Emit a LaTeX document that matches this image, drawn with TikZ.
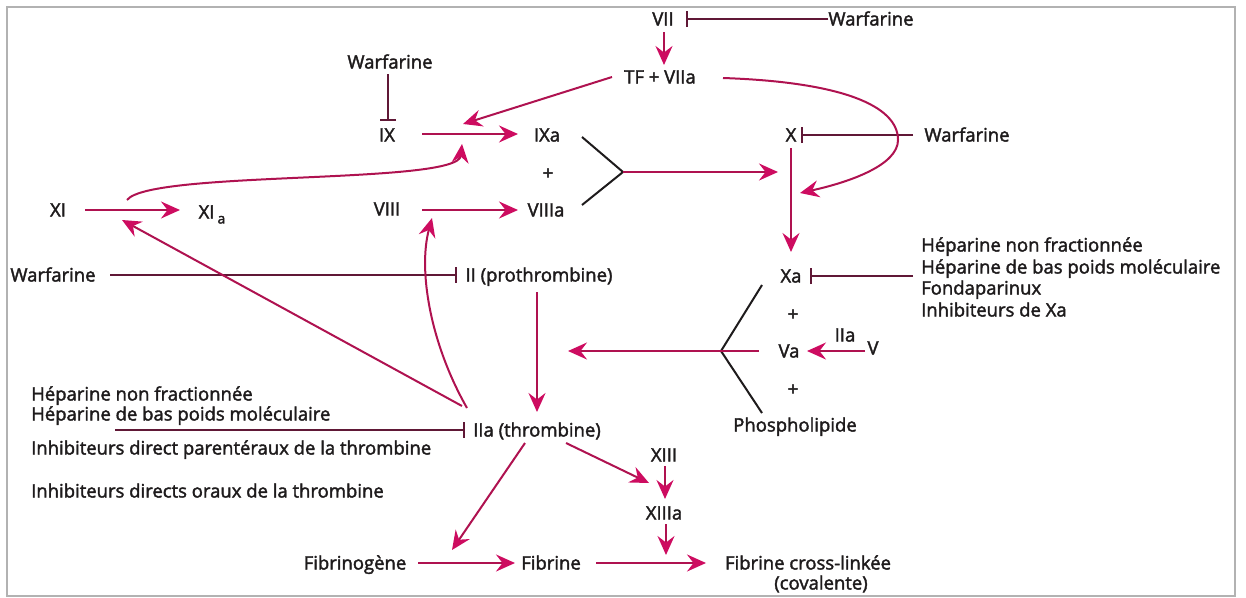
\documentclass[tikz,border=0pt]{standalone}
\usepackage{fontspec}
\setmainfont{Open Sans}[FakeBold=2]
\usetikzlibrary{arrows.meta,calc}
\definecolor{linec}{RGB}{175,18,80}
\definecolor{headc}{RGB}{205,12,96}
\definecolor{inhc}{RGB}{96,24,54}
\definecolor{txtc}{RGB}{30,27,28}
\definecolor{framec}{RGB}{178,178,178}
\begin{document}
\begin{tikzpicture}[x=1pt,y=-1pt,
  lab/.style={font=\fontsize{18.5}{22}\selectfont, text=txtc, inner sep=0pt, text height=17pt, text depth=4pt},
  arr/.style={draw=linec, line width=2pt, -{Stealth[length=19pt,width=17pt,inset=6.5pt,color=headc]}},
  inh/.style={draw=inhc, line width=2pt, -{Bar[width=16pt]}},
  brk/.style={draw=txtc, line width=2pt}]
\useasboundingbox (0,0) rectangle (1246,597);
\draw[framec, line width=2pt] (6.5,6.5) rectangle (1235,596);

% nodes
\node[lab] (VII) at (663,19) {VII};
\node[lab] (W1) at (871,19) {Warfarine};
\node[lab] (TF) at (660,77) {TF + VIIa};
\node[lab] (W2) at (390,62) {Warfarine};
\node[lab] (IX) at (387,135) {IX};
\node[lab] (IXa) at (547,135) {IXa};
\node[lab] (p1) at (548,173) {+};
\node[lab] (X) at (791,135) {X};
\node[lab] (W3) at (967,135) {Warfarine};
\node[lab] (XI) at (58,210) {XI};
\node[lab] (XIa) at (212,212) {XI\,\raisebox{-5pt}{\fontsize{14}{14}\selectfont a}};
\node[lab] (VIII) at (387,209) {VIII};
\node[lab] (VIIIa) at (546,210) {VIIIa};
\node[lab] (W4) at (53,275) {Warfarine};
\node[lab] (II) at (539,275) {II (prothrombine)};
\node[lab] (Xa) at (791,276) {Xa};
\node[lab, anchor=west] (hepA) at (921,245) {Héparine non fractionnée};
\node[lab, anchor=west] (hepB) at (921,267) {Héparine de bas poids moléculaire};
\node[lab, anchor=west] (hepC) at (921,288) {Fondaparinux};
\node[lab, anchor=west] (hepD) at (921,310) {Inhibiteurs de Xa};
\node[lab] (p2) at (793,314) {+};
\node[lab] (IIaV) at (845,335) {IIa};
\node[lab] (Va) at (789,351) {Va};
\node[lab] (V) at (873,348) {V};
\node[lab] (p3) at (793,389) {+};
\node[lab] (PL) at (795,425) {Phospholipide};
\node[lab, anchor=west] (lhA) at (31,394) {Héparine non fractionnée};
\node[lab, anchor=west] (lhB) at (31,414) {Héparine de bas poids moléculaire};
\node[lab, anchor=west] (lhC) at (31,448) {Inhibiteurs direct parentéraux de la thrombine};
\node[lab, anchor=west] (lhD) at (31,491) {Inhibiteurs directs oraux de la thrombine};
\node[lab] (IIa) at (537,430) {IIa (thrombine)};
\node[lab] (XIII) at (664,455) {XIII};
\node[lab] (XIIIa) at (664,513) {XIIIa};
\node[lab] (Fg) at (355,563) {Fibrinogène};
\node[lab] (Fb) at (551,563) {Fibrine};
\node[lab] (Fcl) at (808,563) {Fibrine cross-linkée};
\node[lab] (cov) at (821,583) {(covalente)};

\coordinate (J1) at (623,172);
\coordinate (J2) at (721,351);
\coordinate (T2) at (568,351);

% inhibitions
\draw[inh] (W1.west) -- ($(VII.center)+(23,0)$);
\draw[inh] ($(W2.center)+(-2,12)$) -- ($(IX.center)+(1,-14)$);
\draw[inh] ($(W3.center)+(-54,0)$) -- ($(X.center)+(10,0)$);
\draw[inh] ($(Xa.center)+(122,0)$) -- ($(Xa.center)+(19,0)$);
\draw[inh] ($(W4.center)+(57,0)$) -- ($(II.center)+(-82,0)$);
\draw[inh] ($(IIa.center)+(-422,0)$) -- ($(IIa.center)+(-72,0)$);

% activations
\draw[arr] ($(VII.center)+(1,13)$) -- ($(TF.center)+(4,-12)$);
\draw[arr] ($(TF.center)+(-48,0)$) -- ($(IX.center)+(76,-11)$);
\draw[arr] ($(TF.center)+(63,1)$) .. controls +(117,4) and +(0,-35) .. ($(X.center)+(107,5)$)
  .. controls +(0,25) and +(50,-11) .. ($(X.center)+(9,58)$);
\draw[arr] ($(IX.center)+(35,-1)$) -- ($(IXa.center)+(-29,-1)$);
\draw[arr] ($(XI.center)+(27,0)$) -- ($(XIa.center)+(-32,-2)$);
\draw[arr] ($(XI.center)+(69,-10)$) .. controls +(23,-30) and +(-4,41) .. ($(IXa.center)+(-85,9)$);
\draw[arr] ($(VIII.center)+(35,1)$) -- ($(VIIIa.center)+(-28,0)$);
\draw[brk] ($(IXa.center)+(35,2)$) -- (J1) -- ($(VIIIa.center)+(36,-5)$);
\draw[arr] (J1) -- ($(X.center)+(-13,37)$);
\draw[arr] ($(X.center)+(0,13)$) -- ($(Xa.center)+(0,-24)$);
\draw[brk] ($(Xa.center)+(-29,9)$) -- (J2) -- ($(PL.center)+(-33,-12)$);
\draw[arr] ($(Va.center)+(-30,0)$) -- (T2);
\draw[arr] ($(V.center)+(-8,3)$) -- ($(Va.center)+(18,0)$);
\draw[arr] ($(II.center)+(-2,17)$) -- ($(IIa.center)+(0,-18)$);
\draw[arr] ($(IIa.center)+(-75,-24)$) -- ($(XI.center)+(64,10)$);
\draw[arr] ($(IIa.center)+(-70,-22)$) .. controls +(-37,-65) and +(-14,52) .. ($(VIII.center)+(45,9)$);
\draw[arr] ($(IIa.center)+(-12,13)$) -- ($(Fg.center)+(97,-13)$);
\draw[arr] ($(IIa.center)+(29,13)$) -- ($(XIII.center)+(-15,28)$);
\draw[arr] ($(XIII.center)+(1,11)$) -- ($(XIIIa.center)+(1,-14)$);
\draw[arr] ($(XIIIa.center)+(2,11)$) -- ($(Fcl.center)+(-142,-8)$);
\draw[arr] ($(Fg.center)+(63,0)$) -- ($(Fb.center)+(-36,0)$);
\draw[arr] ($(Fb.center)+(45,0)$) -- ($(Fcl.center)+(-102,0)$);
\end{tikzpicture}
\end{document}
